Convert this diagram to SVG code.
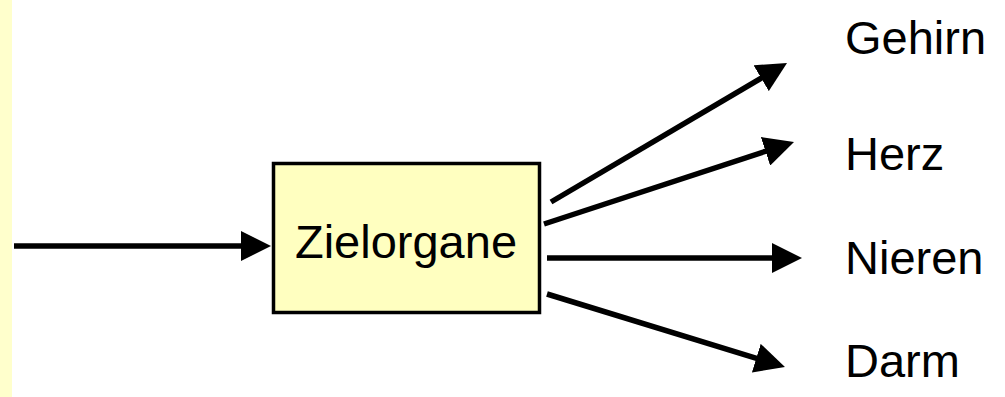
<svg xmlns="http://www.w3.org/2000/svg" width="1005" height="397" viewBox="0 0 1005 397">
  <style>
    .lbl { font-family: "Liberation Sans", Arial, sans-serif; font-size: 47px; fill: #000; }
    .conn { stroke: #000; stroke-width: 5.5; fill: none; marker-end: url(#ah); }
    .box { fill: #FFFFC0; stroke: #000; stroke-width: 3.5; }
  </style>
  <defs>
    <marker id="ah" viewBox="0 0 30 30" markerUnits="userSpaceOnUse" markerWidth="30" markerHeight="30" refX="2" refY="15" orient="auto">
      <path d="M0,0 L30,15 L0,30 Z" fill="#000"/>
    </marker>
  </defs>
  <rect x="0" y="0" width="1005" height="397" fill="#fff"/>
  <rect x="0" y="0" width="12" height="397" fill="#FFFFCC"/>
  <g id="connectors">
    <line class="conn" x1="14" y1="246" x2="243" y2="246"/>
    <line class="conn" x1="551" y1="202" x2="762.9" y2="77.2"/>
    <line class="conn" x1="544" y1="224" x2="767.4" y2="150.7"/>
    <line class="conn" x1="547" y1="258" x2="774" y2="258"/>
    <line class="conn" x1="547" y1="294" x2="758.2" y2="358.8"/>
  </g>
  <g id="zielorgane">
    <rect class="box" x="273.5" y="163.5" width="266" height="149"/>
    <text class="lbl" x="406" y="258" text-anchor="middle">Zielorgane</text>
  </g>
  <g id="gehirn"><text class="lbl" x="845" y="54">Gehirn</text></g>
  <g id="herz"><text class="lbl" x="845" y="170">Herz</text></g>
  <g id="nieren"><text class="lbl" x="845" y="274">Nieren</text></g>
  <g id="darm"><text class="lbl" x="845" y="377">Darm</text></g>
</svg>
